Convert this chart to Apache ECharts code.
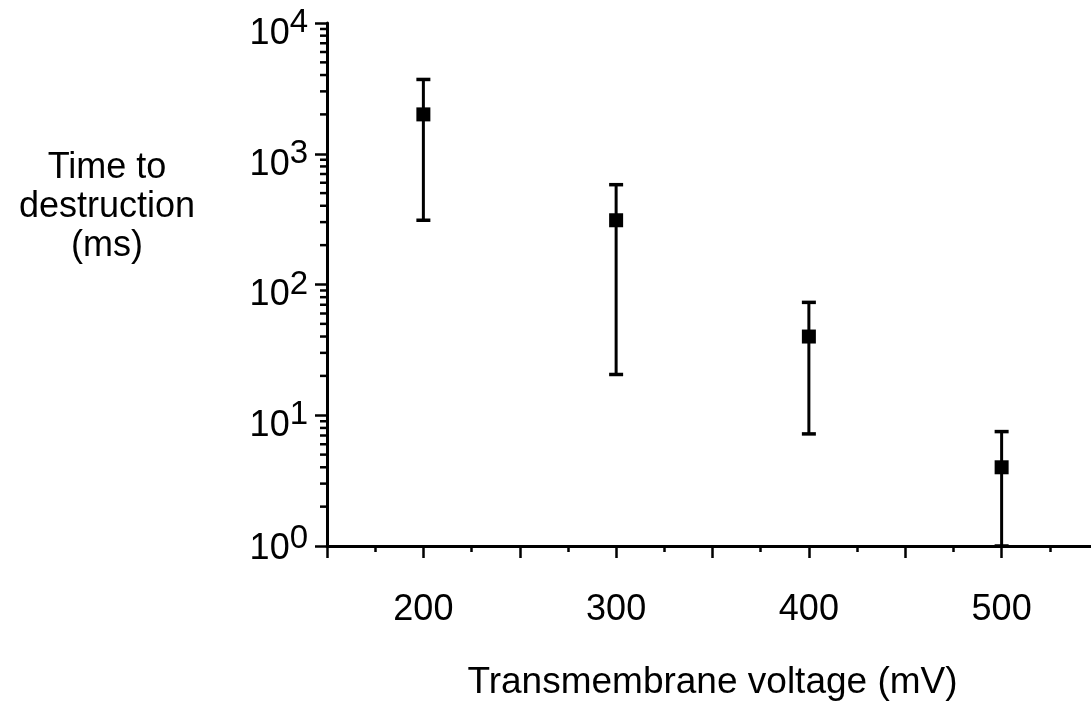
<!DOCTYPE html>
<html>
<head>
<meta charset="utf-8">
<script src="https://cdn.jsdelivr.net/npm/echarts@6/dist/echarts.min.js"></script>
<style>
html,body{margin:0;padding:0;background:#fff;}
#chart{width:1091px;height:709px;}
</style>
</head>
<body>
<div id="chart"></div>
<script>
// Data
var voltages = [200, 300, 400, 500];
var timeMean = [2000, 310, 40, 4];
var timeHigh = [3700, 580, 73, 7.5];
var timeLow  = [310, 20.5, 7.2, 1];
var yMinorTicks = [2,3,4,5,6,7,8,9, 20,30,40,50,60,70,80,90, 200,300,400,500,600,700,800,900, 2000,3000,4000,5000,6000,7000,8000,9000];
var xTickLabels = [200, 300, 400, 500];
var xMin = 150, xMax = 550;

var FONT = 'Liberation Sans';
var chart = echarts.init(document.getElementById('chart'));

var errData = voltages.map(function (v, i) { return [v, timeLow[i], timeHigh[i]]; });
var meanData = voltages.map(function (v, i) { return [v, timeMean[i]]; });
var minorData = yMinorTicks.map(function (t) { return [xMin, t]; });

chart.setOption({
  animation: false,
  backgroundColor: '#fff',
  grid: { left: 327, right: -7, top: 23, bottom: 163, containLabel: false, outerBoundsMode: 'none' },
  graphic: [{
    type: 'text',
    style: {
      x: 107, y: 149,
      text: 'Time to\ndestruction\n(ms)',
      fontSize: 36, fontFamily: FONT,
      lineHeight: 39,
      align: 'center', verticalAlign: 'top',
      fill: '#000'
    }
  }],
  xAxis: {
    type: 'value',
    min: xMin, max: xMax, interval: 50,
    name: 'Transmembrane voltage (mV)',
    nameLocation: 'middle',
    nameGap: 118,
    nameTextStyle: { fontSize: 37, fontFamily: FONT, color: '#000', lineHeight: 37 },
    axisLine: { show: true, onZero: false, lineStyle: { color: '#000', width: 3 } },
    axisTick: { show: true, inside: false, length: 12, lineStyle: { color: '#000', width: 2.5 } },
    minorTick: { show: true, splitNumber: 2, length: 6, lineStyle: { color: '#000', width: 2.5 } },
    splitLine: { show: false },
    minorSplitLine: { show: false },
    axisLabel: {
      margin: 46, fontSize: 36, fontFamily: FONT, color: '#000', lineHeight: 36,
      showMinLabel: true, showMaxLabel: true,
      formatter: function (v) { return xTickLabels.indexOf(v) >= 0 ? String(v) : ''; }
    }
  },
  yAxis: {
    type: 'log', logBase: 10, min: 1, max: 10000,
    axisLine: { show: true, onZero: false, lineStyle: { color: '#000', width: 3 } },
    axisTick: { show: true, length: 12, lineStyle: { color: '#000', width: 2.5 } },
    splitLine: { show: false },
    axisLabel: {
      margin: 19, color: '#000', fontFamily: FONT,
      formatter: function (v) {
        var e = Math.round(Math.log10(v));
        if (e === 0) return '{m0|10}{s0|' + e + '}';
        return '{m|10}{s|' + e + '}';
      },
      rich: {
        m:  { fontSize: 36, fontFamily: FONT, color: '#000', lineHeight: 36, padding: [22, 0, 0, 0] },
        s:  { fontSize: 33, fontFamily: FONT, color: '#000', lineHeight: 33, padding: [0, 0, 0, 0] },
        m0: { fontSize: 36, fontFamily: FONT, color: '#000', lineHeight: 36, padding: [6, 0, 0, 0] },
        s0: { fontSize: 33, fontFamily: FONT, color: '#000', lineHeight: 33, padding: [0, 0, 14, 0] }
      }
    }
  },
  series: [
    {
      type: 'custom',
      name: 'minorTicks',
      clip: false,
      silent: true,
      data: minorData,
      renderItem: function (params, api) {
        var p = api.coord([api.value(0), api.value(1)]);
        return {
          type: 'line',
          shape: { x1: p[0] - 7, y1: p[1], x2: p[0], y2: p[1] },
          style: { stroke: '#000', lineWidth: 2.5 }
        };
      }
    },
    {
      type: 'custom',
      name: 'errors',
      clip: false,
      silent: true,
      data: errData,
      z: 3,
      renderItem: function (params, api) {
        var x = api.value(0);
        var lo = api.coord([x, api.value(1)]);
        var hi = api.coord([x, api.value(2)]);
        var cw = 7;
        return {
          type: 'group',
          children: [
            { type: 'line', shape: { x1: lo[0], y1: lo[1], x2: hi[0], y2: hi[1] }, style: { stroke: '#000', lineWidth: 3 } },
            { type: 'line', shape: { x1: hi[0] - cw, y1: hi[1], x2: hi[0] + cw, y2: hi[1] }, style: { stroke: '#000', lineWidth: 3.5 } },
            { type: 'line', shape: { x1: lo[0] - cw, y1: lo[1], x2: lo[0] + cw, y2: lo[1] }, style: { stroke: '#000', lineWidth: 3.5 } }
          ]
        };
      }
    },
    {
      type: 'scatter',
      name: 'mean',
      data: meanData,
      symbol: 'rect',
      symbolSize: 14,
      z: 4,
      itemStyle: { color: '#000', opacity: 1 }
    }
  ]
});
</script>
</body>
</html>
